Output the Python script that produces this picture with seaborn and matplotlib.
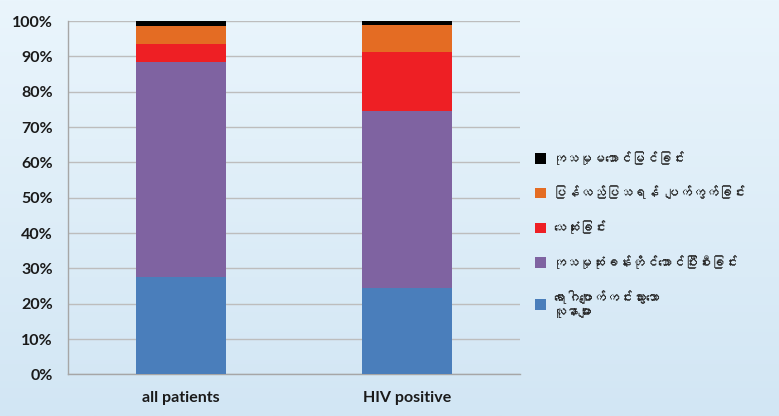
import numpy as np
import pandas as pd
import matplotlib
matplotlib.use("Agg")
import matplotlib.pyplot as plt
import seaborn as sns
from matplotlib import font_manager
from matplotlib.patches import Patch

# ========== data ==========
groups = ["all patients", "HIV positive"]
outcomes = [
    "ရောဂါပျောက်ကင်းသွားသော\nလူနာများ",
    "ကုသမှုဆုံးခန်းတိုင်အောင်ပြီးစီးခြင်း",
    "သေဆုံးခြင်း",
    "ပြန်လည်ပြသရန် ပျက်ကွက်ခြင်း",
    "ကုသမှုမအောင်မြင်ခြင်း",
]
cured = [27.5, 24.5]
completed = [61.0, 50.1]
died = [4.9, 16.5]
lost = [5.3, 7.9]
failed = [1.3, 1.0]
colors = ["#4A7EBB", "#7F63A1", "#EE1F24", "#E46C23", "#000000"]
yticks = [0, 10, 20, 30, 40, 50, 60, 70, 80, 90, 100]

# ========== find a font that can draw Myanmar ==========
mm_font = None
try:
    from fontTools.ttLib import TTFont
    for f in font_manager.fontManager.ttflist:
        try:
            cmap = TTFont(f.fname, fontNumber=0, lazy=True).getBestCmap()
            if cmap and 0x1000 in cmap and 0x1039 in cmap:
                mm_font = f.name
                break
        except Exception:
            pass
except Exception:
    pass

sns.set_style("white")
plt.rcParams["font.family"] = ["Lato", "DejaVu Sans"]
legend_family = [mm_font, "DejaVu Sans"] if mm_font else ["DejaVu Sans"]

series = [cured, completed, died, lost, failed]
cum = np.cumsum(np.array(series), axis=0)

fig = plt.figure(figsize=(7.79, 4.16), dpi=100)

# background gradient
bg = fig.add_axes([0, 0, 1, 1], zorder=-10)
grad = np.linspace(0, 1, 256).reshape(-1, 1)
cmap_bg = matplotlib.colors.LinearSegmentedColormap.from_list("bg", ["#EAF5FC", "#D2E6F4"])
bg.imshow(grad, aspect="auto", cmap=cmap_bg, extent=[0, 1, 0, 1], origin="upper")
bg.axis("off")

ax = fig.add_axes([0.0873, 0.0998, 0.58, 0.8497])
ax.patch.set_alpha(0)

# draw stacked bars: tallest cumulative first, smaller on top
for i in range(len(series) - 1, -1, -1):
    df = pd.DataFrame({"group": groups, "value": cum[i]})
    sns.barplot(data=df, x="group", y="value", color=colors[i], width=0.4,
                saturation=1, ax=ax, zorder=3, linewidth=0)

ax.set_xlim(-0.5, 1.5)
ax.set_ylim(0, 100)
ax.set_yticks(yticks)
ax.set_yticklabels([f"{t}%" for t in yticks], fontsize=11.5, fontweight="bold", color="#1A1A1A")
ax.set_xticks([0, 1])
ax.set_xticklabels(groups, fontsize=11.5, fontweight="bold", color="#1A1A1A")
ax.set_xticks([0.5], minor=True)
ax.tick_params(axis="x", which="major", length=0, pad=12)
ax.tick_params(axis="x", which="minor", length=4, color="#A6A6A6", direction="out")
ax.tick_params(axis="y", length=5, color="#A6A6A6", direction="out", pad=6)
ax.set_xlabel("")
ax.set_ylabel("")
ax.yaxis.grid(True, color="#BDBDBD", linewidth=1, zorder=0)
ax.set_axisbelow(True)
for s in ["top", "right"]:
    ax.spines[s].set_visible(False)
for s in ["left", "bottom"]:
    ax.spines[s].set_color("#A6A6A6")
    ax.spines[s].set_linewidth(1)

handles = [Patch(facecolor=colors[i], edgecolor="none") for i in range(len(outcomes) - 1, -1, -1)]
labels = [outcomes[i] for i in range(len(outcomes) - 1, -1, -1)]
leg = fig.legend(handles, labels, loc="upper left", bbox_to_anchor=(0.671, 0.665),
                 frameon=False, handlelength=0.85, handleheight=0.85, handletextpad=0.55,
                 labelspacing=1.6, prop={"family": legend_family, "size": 9.5})

fig.savefig("out.png", dpi=100)
